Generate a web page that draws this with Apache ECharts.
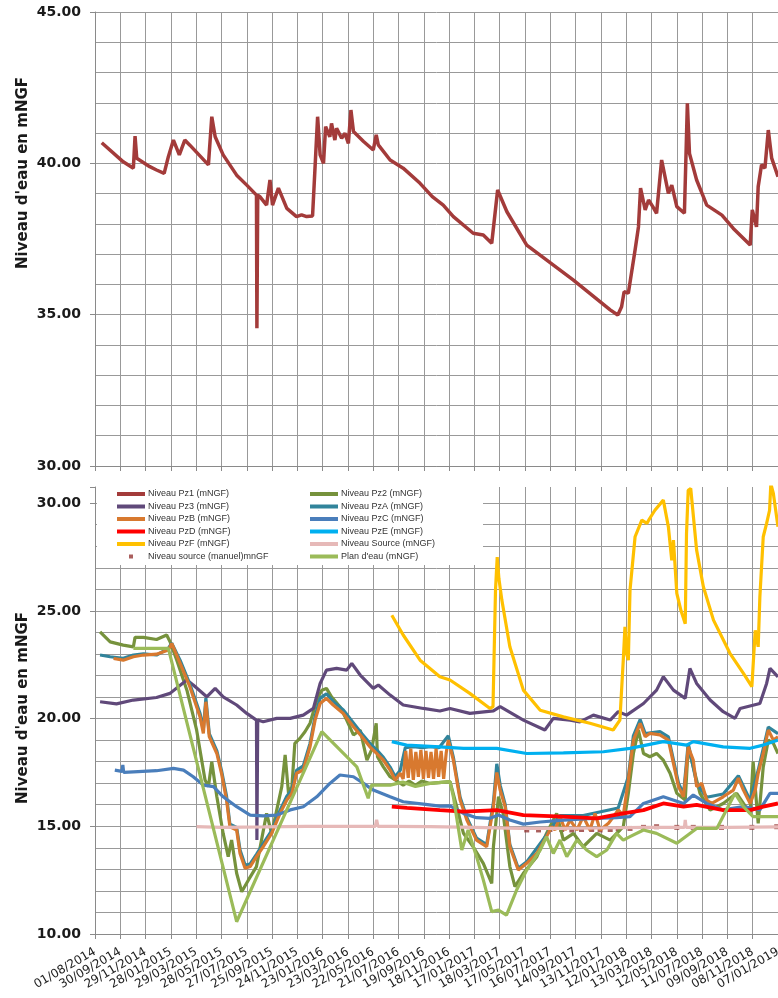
<!DOCTYPE html>
<html>
<head>
<meta charset="utf-8">
<title>Niveaux d'eau</title>
<script src="https://cdn.jsdelivr.net/npm/echarts@6/dist/echarts.min.js"></script>
<style>
  html, body { margin: 0; padding: 0; background: #ffffff; }
  #chart { width: 778px; height: 998px; }
</style>
</head>
<body>
<div id="chart"></div>
<script>
// x values are days counted from 01/08/2014; ticks every 60 days
const startDate = [2014, 8, 1];
const tickStepDays = 60;
const lastTickDay = 1620;

// Niveau Pz1 (upper panel)
const pz1 = [[16,40.68],[67,40.05],[91,39.84],[95,40.9],[99,40.17],[130,39.89],[146,39.78],[164,39.67],[174,40.22],[186,40.77],[200,40.28],[213,40.77],[225,40.6],[269,39.95],[277,41.54],[285,40.88],[304,40.28],[336,39.61],[360,39.28],[383,38.95],[384,34.55],[386,38.95],[391,38.9],[407,38.62],[415,39.45],[421,38.62],[435,39.18],[455,38.51],[478,38.24],[490,38.3],[502,38.24],[516,38.26],[522,39.89],[528,41.54],[534,40.28],[542,40.0],[547,41.21],[557,40.88],[561,41.32],[569,40.77],[573,41.16],[585,40.83],[593,40.99],[601,40.66],[607,41.76],[613,41.05],[637,40.72],[660,40.44],[667,40.94],[672,40.61],[700,40.11],[731,39.84],[771,39.34],[800,38.9],[826,38.62],[850,38.24],[897,37.69],[921,37.63],[941,37.36],[955,39.12],[977,38.4],[1024,37.3],[1134,36.15],[1222,35.16],[1240,34.99],[1249,35.26],[1255,35.76],[1265,35.71],[1281,37.14],[1289,37.9],[1294,39.18],[1305,38.46],[1313,38.79],[1323,38.57],[1332,38.35],[1344,40.11],[1360,39.01],[1368,39.28],[1380,38.57],[1398,38.35],[1402,40.39],[1405,41.98],[1410,40.33],[1427,39.45],[1451,38.62],[1487,38.29],[1514,37.85],[1554,37.3],[1559,38.46],[1569,37.9],[1573,39.23],[1581,39.95],[1589,39.84],[1597,41.1],[1605,40.17],[1620,39.56]];

// Lower panel series
const pz2 = [[12,24.03],[36,23.56],[67,23.41],[91,23.33],[95,23.77],[115,23.77],[146,23.67],[170,23.88],[178,23.57],[194,22.71],[218,21.32],[241,19.47],[261,17.15],[269,16.84],[277,18.0],[289,16.37],[304,14.67],[316,13.59],[324,14.36],[336,12.82],[348,11.96],[364,12.51],[383,13.13],[407,15.6],[419,14.67],[431,15.75],[443,16.84],[451,18.31],[459,16.53],[467,16.84],[474,18.85],[486,19.08],[498,19.39],[510,19.78],[526,20.86],[538,21.32],[549,21.4],[561,21.01],[581,20.55],[597,19.93],[613,19.24],[629,19.47],[645,18.07],[656,18.54],[667,19.78],[670,18.23],[684,17.76],[700,17.3],[712,17.15],[731,16.91],[745,17.1],[760,16.9],[775,17.1],[795,16.99],[842,17.07],[858,15.91],[874,14.67],[897,14.05],[921,13.28],[941,12.35],[945,14.05],[957,16.37],[968,15.6],[984,13.13],[996,12.2],[1016,12.82],[1048,13.59],[1071,14.67],[1095,15.6],[1111,14.36],[1135,14.67],[1158,14.05],[1190,14.67],[1222,14.36],[1253,14.98],[1265,16.53],[1277,18.38],[1289,19.47],[1301,18.38],[1316,18.23],[1332,18.38],[1348,18.07],[1364,17.46],[1380,16.53],[1400,16.22],[1407,18.69],[1419,17.76],[1435,16.53],[1459,15.75],[1490,16.06],[1522,16.53],[1554,15.6],[1561,18.0],[1573,15.14],[1585,17.76],[1597,19.0],[1609,18.85],[1620,18.38]];

const pz3 = [[12,20.78],[51,20.68],[91,20.86],[146,20.98],[178,21.17],[202,21.55],[218,21.79],[233,21.56],[265,21.01],[285,21.4],[304,21.01],[336,20.63],[360,20.24],[383,19.93],[384,14.36],[386,19.93],[399,19.85],[431,20.01],[463,20.01],[494,20.16],[518,20.47],[534,21.63],[549,22.25],[573,22.33],[597,22.25],[609,22.56],[629,22.02],[660,21.4],[672,21.56],[700,21.09],[731,20.63],[779,20.47],[818,20.35],[842,20.47],[889,20.24],[945,20.36],[961,20.55],[1016,19.93],[1067,19.47],[1087,20.01],[1127,19.93],[1150,19.85],[1182,20.16],[1222,19.93],[1241,20.32],[1261,20.16],[1301,20.7],[1332,21.32],[1348,21.94],[1372,21.32],[1400,20.94],[1411,22.33],[1427,21.63],[1459,20.86],[1490,20.32],[1518,20.01],[1530,20.47],[1577,20.7],[1593,21.63],[1601,22.33],[1620,21.94]];

const pzA = [[12,22.95],[36,22.87],[67,22.8],[91,22.95],[115,23.0],[146,22.95],[174,23.26],[182,23.5],[202,22.7],[225,21.6],[249,20.25],[257,19.5],[263,20.95],[271,19.3],[289,18.5],[300,17.6],[312,16.4],[320,15.1],[336,14.95],[344,13.9],[356,13.2],[368,13.25],[383,13.7],[399,14.2],[419,14.8],[439,15.75],[455,16.4],[467,16.7],[478,17.6],[494,17.8],[510,18.85],[522,20.1],[534,20.95],[549,21.15],[565,20.8],[589,20.4],[613,19.8],[633,19.3],[652,18.85],[668,18.55],[684,18.2],[700,17.75],[712,17.3],[724,17.6],[736,18.65],[756,18.7],[776,18.65],[796,18.7],[816,18.65],[838,19.2],[850,18.2],[866,16.35],[882,15.4],[905,14.45],[929,14.15],[945,16.1],[953,17.9],[961,16.9],[973,16.0],[984,14.15],[1004,13.05],[1024,13.35],[1071,14.6],[1103,15.5],[1158,15.5],[1241,15.85],[1265,17.3],[1277,19.2],[1293,19.95],[1305,19.3],[1340,19.4],[1360,19.15],[1384,17.0],[1396,16.5],[1407,18.85],[1427,17.0],[1451,16.35],[1490,16.5],[1526,17.35],[1554,16.2],[1573,17.6],[1597,19.6],[1620,19.3]];

const pzB = [[44,22.79],[67,22.71],[91,22.87],[115,22.95],[146,22.99],[174,23.18],[182,23.49],[202,22.56],[225,21.48],[249,20.09],[257,19.31],[263,20.78],[271,19.16],[289,18.38],[300,17.46],[312,16.22],[320,14.98],[336,14.83],[344,13.74],[356,13.05],[368,13.13],[383,13.59],[399,14.05],[419,14.67],[439,15.6],[455,16.22],[467,16.53],[478,17.46],[494,17.61],[510,18.69],[522,19.93],[534,20.7],[549,20.94],[565,20.63],[589,20.24],[613,19.62],[633,19.16],[652,18.69],[668,18.38],[684,18.07],[700,17.61],[712,17.15],[724,17.46],[731,17.2],[737,18.5],[743,17.25],[749,18.6],[755,17.15],[761,18.45],[767,17.3],[773,18.55],[779,17.2],[785,18.5],[791,17.25],[797,18.45],[803,17.2],[809,18.6],[815,17.3],[821,18.5],[827,17.2],[833,18.4],[838,19.0],[850,18.07],[866,16.22],[882,15.29],[905,14.36],[929,14.05],[945,15.91],[953,17.5],[961,16.68],[973,15.91],[984,14.05],[1004,12.97],[1024,13.28],[1048,13.74],[1071,14.52],[1083,14.98],[1091,14.83],[1103,15.45],[1115,14.83],[1127,15.29],[1143,14.83],[1158,15.45],[1174,14.83],[1186,15.6],[1198,14.83],[1218,15.14],[1230,15.45],[1241,15.76],[1253,15.5],[1265,17.15],[1277,19.0],[1293,19.78],[1305,19.16],[1316,19.31],[1340,19.24],[1360,19.0],[1372,17.92],[1384,16.84],[1396,16.37],[1403,17.76],[1407,18.69],[1419,18.07],[1427,16.84],[1439,17.0],[1451,16.22],[1463,16.06],[1490,16.37],[1514,16.68],[1526,17.23],[1538,16.68],[1554,16.06],[1566,16.68],[1573,17.46],[1585,18.38],[1597,19.47],[1609,19.0],[1620,19.16]];

const pzC = [[47,17.61],[51,17.53],[64,17.55],[66,17.85],[68,17.5],[91,17.53],[146,17.58],[186,17.69],[210,17.61],[233,17.3],[257,16.91],[281,16.84],[304,16.37],[336,15.91],[368,15.52],[399,15.48],[431,15.52],[463,15.76],[494,15.91],[526,16.37],[557,16.99],[581,17.38],[613,17.3],[637,16.99],[660,16.68],[700,16.37],[731,16.14],[779,16.03],[818,15.94],[842,15.95],[874,15.6],[905,15.4],[937,15.37],[957,15.52],[984,15.29],[1016,15.1],[1056,15.2],[1111,15.29],[1170,15.35],[1237,15.4],[1269,15.45],[1301,16.06],[1348,16.37],[1396,16.06],[1419,16.45],[1451,16.06],[1490,15.76],[1538,15.91],[1577,15.76],[1601,16.53],[1620,16.53]];

const pzD = [[704,15.91],[740,15.85],[818,15.75],[874,15.68],[953,15.75],[1016,15.52],[1111,15.45],[1190,15.37],[1253,15.6],[1301,15.75],[1348,16.06],[1396,15.91],[1427,15.99],[1490,15.75],[1554,15.75],[1585,15.91],[1620,16.06]];

const pzE = [[704,18.93],[739,18.77],[818,18.69],[874,18.62],[953,18.62],[1024,18.38],[1111,18.41],[1206,18.46],[1269,18.62],[1348,18.93],[1403,18.77],[1419,18.93],[1490,18.69],[1554,18.62],[1585,18.77],[1620,19.0]];

const pzF = [[704,24.8],[731,23.88],[771,22.71],[818,21.94],[842,21.79],[889,21.17],[937,20.47],[944,20.55],[950,26.0],[954,27.5],[958,26.5],[965,25.5],[984,23.33],[1016,21.32],[1056,20.39],[1111,20.08],[1174,19.78],[1229,19.47],[1245,19.93],[1253,22.71],[1257,24.26],[1261,23.0],[1265,22.71],[1269,25.96],[1281,28.44],[1297,29.21],[1309,29.06],[1316,29.3],[1328,29.67],[1348,30.14],[1360,28.9],[1368,27.35],[1372,28.28],[1380,25.81],[1390,25.0],[1400,24.4],[1403,28.6],[1407,30.6],[1413,30.68],[1427,27.82],[1443,26.12],[1467,24.57],[1506,23.03],[1538,22.1],[1558,21.48],[1566,24.1],[1573,23.33],[1577,25.65],[1585,28.44],[1593,29.06],[1600,29.67],[1603,30.9],[1609,30.45],[1620,28.9]];

const source = [[241,14.98],[300,14.95],[400,14.97],[500,15.0],[600,15.0],[665,15.0],[668,15.3],[671,15.0],[700,15.0],[795,14.98],[900,14.95],[1008,14.9],[1100,14.9],[1200,14.92],[1300,14.95],[1398,14.95],[1400,15.3],[1402,14.95],[1500,14.95],[1620,14.97]];

const sourceManuel = [[1024,14.83],[1052,14.83],[1079,14.85],[1107,14.85],[1131,14.83],[1154,14.85],[1178,14.85],[1198,14.83],[1222,14.85],[1241,14.88],[1269,14.9],[1301,14.95],[1332,14.98],[1380,14.95],[1419,14.95],[1486,14.95],[1558,14.95],[1617,14.98]];

const planEau = [[91,23.26],[174,23.26],[336,10.57],[538,19.39],[597,18.23],[621,17.76],[648,16.3],[656,16.91],[700,16.91],[730,17.05],[760,16.85],[795,16.99],[842,17.07],[850,16.37],[870,13.9],[885,14.83],[905,13.59],[921,12.51],[941,11.04],[957,11.11],[976,10.88],[1000,12.04],[1024,12.97],[1056,13.9],[1071,14.52],[1087,13.74],[1103,14.36],[1119,13.59],[1143,14.36],[1166,13.9],[1190,13.59],[1214,13.9],[1237,14.67],[1253,14.36],[1269,14.52],[1301,14.83],[1332,14.67],[1380,14.21],[1427,14.9],[1475,14.9],[1518,16.53],[1538,15.91],[1561,15.45],[1620,15.45]];

const names = {
  pz1: 'Niveau Pz1 (mNGF)', pz2: 'Niveau Pz2 (mNGF)', pz3: 'Niveau Pz3 (mNGF)',
  pzA: 'Niveau PzA (mNGF)', pzB: 'Niveau PzB (mNGF)', pzC: 'Niveau PzC (mNGF)',
  pzD: 'Niveau PzD (mNGF)', pzE: 'Niveau PzE (mNGF)', pzF: 'Niveau PzF (mNGF)',
  source: 'Niveau Source (mNGF)', manuel: 'Niveau source (manuel)mnGF', plan: "Plan d'eau (mNGF)"
};

const DAY0 = Date.UTC(startDate[0], startDate[1] - 1, startDate[2]);
const pad = n => (n < 10 ? '0' : '') + n;
function dayLabel(d) {
  const t = new Date(DAY0 + d * 86400000);
  return pad(t.getUTCDate()) + '/' + pad(t.getUTCMonth() + 1) + '/' + t.getUTCFullYear();
}

const gridColor = '#999999';
const axisColor = '#8a8a8a';

function xAxisFor(gridIndex, withLabels) {
  return {
    type: 'value', gridIndex, position: 'bottom', min: 0, max: lastTickDay, interval: tickStepDays,
    axisLine: { show: true, onZero: false, lineStyle: { color: axisColor, width: 1 } },
    axisTick: { show: true, length: 5, lineStyle: { color: axisColor } },
    splitLine: { show: true, lineStyle: { color: gridColor, width: 1 } },
    axisLabel: withLabels ? {
      show: true, rotate: 30, margin: 17, fontSize: 12, color: '#222',
      fontFamily: 'DejaVu Sans', formatter: dayLabel
    } : { show: false }
  };
}

function yAxesFor(gridIndex, min, max) {
  return [
    { // unit grid lines
      type: 'value', gridIndex, position: 'left', offset: 0, min, max, interval: 1,
      axisLine: { show: true, onZero: false, lineStyle: { color: axisColor } },
      axisTick: { show: false }, axisLabel: { show: false },
      splitLine: { show: true, showMaxLine: max % 1 === 0, lineStyle: { color: gridColor, width: 1 } }
    },
    { // labelled ticks every 5
      type: 'value', gridIndex, position: 'left', offset: 0, min, max, interval: 5,
      axisLine: { show: false, onZero: false }, splitLine: { show: false },
      axisTick: { show: true, length: 5, lineStyle: { color: axisColor } },
      axisLabel: {
        margin: 14, fontSize: 14, fontWeight: 'bold', color: '#1a1a1a', fontFamily: 'DejaVu Sans',
        formatter: v => (Math.abs(v % 5) < 1e-9 ? v.toFixed(2) : '')
      }
    }
  ];
}

function line(name, data, color, width, xi, yi) {
  return {
    type: 'line', name, data, xAxisIndex: xi, yAxisIndex: yi,
    showSymbol: false, symbol: 'none', smooth: false, clip: true,
    lineStyle: { color, width }, itemStyle: { color },
    emphasis: { disabled: true }, silent: true
  };
}

const series = [
  line(names.pz1, pz1, '#A33B3A', 3.5, 0, 0),
  line(names.pz2, pz2, '#76923C', 3.2, 1, 2),
  line(names.pz3, pz3, '#60497A', 3.2, 1, 2),
  line(names.pzA, pzA, '#31849B', 3.2, 1, 2),
  line(names.pzB, pzB, '#D8792F', 3.2, 1, 2),
  line(names.pzC, pzC, '#4A7EBB', 3.2, 1, 2),
  line(names.pzD, pzD, '#FF0000', 3.8, 1, 2),
  line(names.pzE, pzE, '#00B0F0', 3.2, 1, 2),
  line(names.pzF, pzF, '#FFC000', 3.2, 1, 2),
  line(names.source, source, '#E6B9B8', 3.2, 1, 2),
  {
    type: 'scatter', name: names.manuel, data: sourceManuel, xAxisIndex: 1, yAxisIndex: 2,
    symbol: 'rect', symbolSize: 5, itemStyle: { color: '#953735' }, silent: true
  },
  line(names.plan, planEau, '#9BBB59', 3.2, 1, 2)
];

const legendCommon = {
  orient: 'vertical', top: 488, padding: 0, itemGap: 0.5,
  itemWidth: 28, itemHeight: 4, icon: 'rect', selectedMode: false, z: 60,
  textStyle: { fontSize: 9, lineHeight: 12, color: '#333', fontFamily: 'Liberation Sans', padding: [0, 0, 0, -2] }
};
const squareIcon = 'path://M0,0h10v10h-10z';

const chart = echarts.init(document.getElementById('chart'), null, { renderer: 'canvas' });
chart.setOption({
  animation: false,
  backgroundColor: '#ffffff',
  grid: [
    { left: 95, top: 12, width: 683, height: 454, containLabel: false, outerBoundsMode: 'none' },
    { left: 95, top: 487, width: 683, height: 447, containLabel: false, outerBoundsMode: 'none' }
  ],
  xAxis: [xAxisFor(0, false), xAxisFor(1, true)],
  yAxis: [...yAxesFor(0, 30, 45), ...yAxesFor(1, 10, 30.75)],
  legend: [
    Object.assign({}, legendCommon, {
      left: 117,
      data: [names.pz1, names.pz3, names.pzB, names.pzD, names.pzF, { name: names.manuel, icon: squareIcon }]
    }),
    Object.assign({}, legendCommon, {
      left: 310,
      data: [names.pz2, names.pzA, names.pzC, names.pzE, names.source, names.plan]
    })
  ],
  graphic: [
    { type: 'rect', z: 50, silent: true, shape: { x: 97, y: 484, width: 386, height: 81 }, style: { fill: '#ffffff' } },
    { type: 'text', z: 50, x: 23, y: 173, rotation: Math.PI / 2, silent: true,
      style: { text: "Niveau d'eau en mNGF", fontSize: 15, fontWeight: 'bold', fontFamily: 'DejaVu Sans', fill: '#1a1a1a', align: 'center', verticalAlign: 'middle' } },
    { type: 'text', z: 50, x: 23, y: 708, rotation: Math.PI / 2, silent: true,
      style: { text: "Niveau d'eau en mNGF", fontSize: 15, fontWeight: 'bold', fontFamily: 'DejaVu Sans', fill: '#1a1a1a', align: 'center', verticalAlign: 'middle' } }
  ],
  series
});
</script>
</body>
</html>
